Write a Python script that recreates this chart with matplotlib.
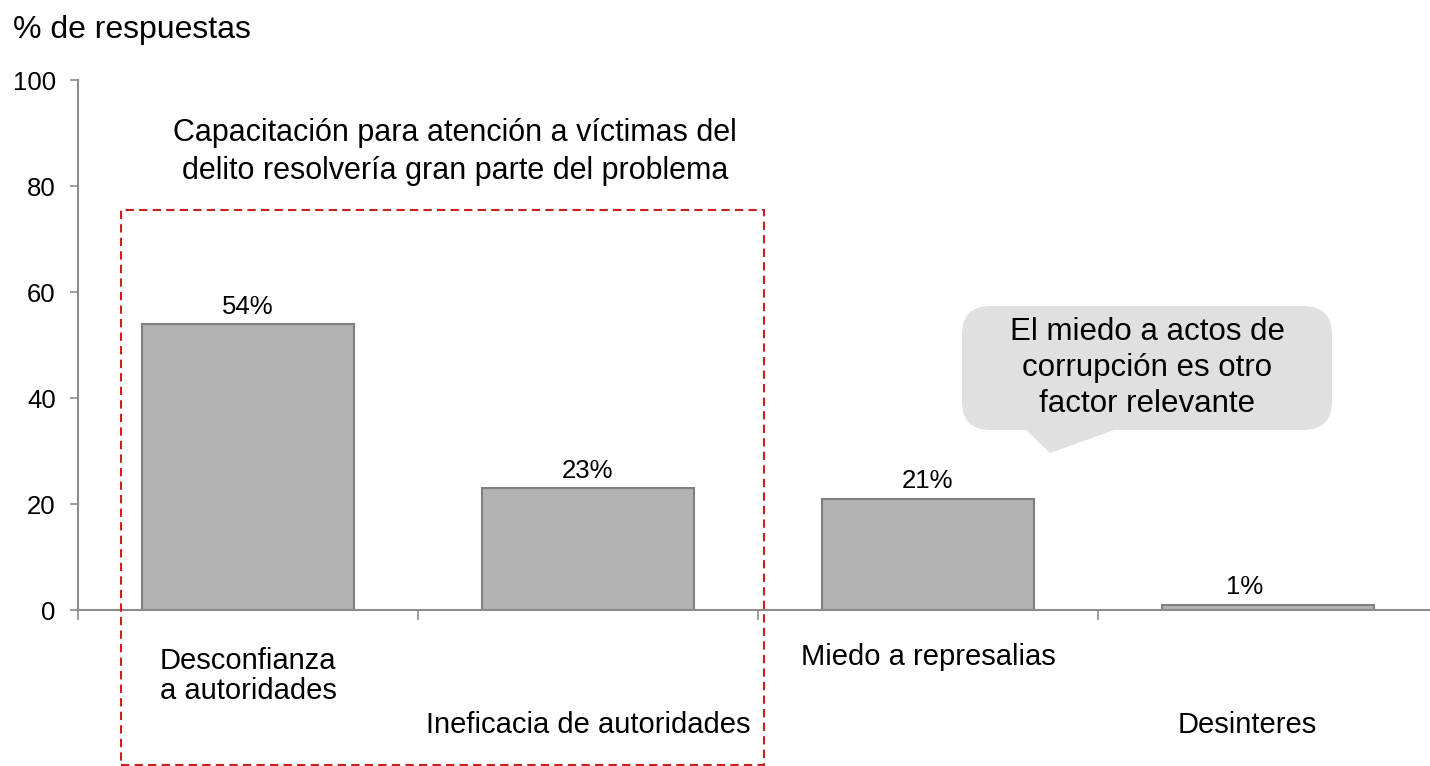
import matplotlib.pyplot as plt
from matplotlib.patches import Rectangle, FancyBboxPatch, Polygon
from matplotlib.transforms import blended_transform_factory

plt.rcParams['font.family'] = ['Liberation Sans', 'DejaVu Sans']

# datos
categorias = ["Desconfianza\na autoridades", "Ineficacia de autoridades",
              "Miedo a represalias", "Desinteres"]
valores = [54, 23, 21, 1]
etiquetas = ["54%", "23%", "21%", "1%"]
ticks_y = [0, 20, 40, 60, 80, 100]

W, H = 1430, 766


def px(x, y):
    # pixel (desde arriba a la izquierda) -> fraccion de figura
    return x / W, 1 - y / H


fig = plt.figure(figsize=(W / 100, H / 100), dpi=100)
ax = fig.add_axes([78 / W, 156 / H, 1360 / W, 530 / H])

x = list(range(len(valores)))
ax.bar(x, valores, width=0.625, color='#b2b2b2', edgecolor='#808080', linewidth=1.5, zorder=2)
ax.set_xlim(-0.5, 3.5)
ax.set_ylim(0, 100)

for s in ['top', 'right']:
    ax.spines[s].set_visible(False)
for s in ['left', 'bottom']:
    ax.spines[s].set_color('#8c8c8c')
    ax.spines[s].set_linewidth(1.5)

ax.set_yticks(ticks_y)
ax.tick_params(axis='y', length=6, width=1.2, color='#8c8c8c', labelsize=18.5, pad=10)
ax.set_xticks([-0.5, 0.5, 1.5, 2.5, 3.5])
ax.set_xticklabels([])
ax.tick_params(axis='x', length=7, width=1.2, color='#8c8c8c')

# etiquetas de valor
offs = [0, 0, 0, -0.07]
for i, v in enumerate(valores):
    ax.text(i + offs[i], v + 1, etiquetas[i], ha='center', va='bottom', fontsize=18.5)

# etiquetas de categoria (escalonadas)
tr = blended_transform_factory(ax.transData, fig.transFigure)
pos_cat = [(-0.26, 676, 'left'), (1.0, 725, 'center'), (2.0, 657, 'center'), (2.94, 725, 'center')]
for (cx, cy, ha), txt in zip(pos_cat, categorias):
    ax.text(cx, 1 - cy / H, txt, transform=tr, ha=ha, va='center', fontsize=21, linespacing=1.05)

# titulo del eje
fig.text(*px(13, 30), "% de respuestas", ha='left', va='center', fontsize=23)

# recuadro punteado rojo
x0, y0 = px(121, 765)
x1, y1 = px(764, 210)
fig.add_artist(Rectangle((x0, y0), x1 - x0, y1 - y0, transform=fig.transFigure,
                         fill=False, edgecolor='#cc1f1f', linewidth=1.5,
                         linestyle=(0, (4, 2.5)), zorder=5))
fig.text(*px(455, 152), "Capacitación para atención a víctimas del\ndelito resolvería gran parte del problema",
         ha='center', va='center', fontsize=22, linespacing=1.35)

# globo de comentario
bx0, by0 = px(962, 430)
bx1, by1 = px(1332, 306)
fig.add_artist(FancyBboxPatch((bx0, by0), bx1 - bx0, by1 - by0, transform=fig.transFigure,
                              boxstyle="round,pad=0,rounding_size=0.02",
                              facecolor='#e0e0e0', edgecolor='none', zorder=3,
                              mutation_aspect=W / H))
fig.add_artist(Polygon([px(1025, 429), px(1117, 429), px(1050, 453)], closed=True,
                       transform=fig.transFigure, facecolor='#e0e0e0', edgecolor='none', zorder=3))
fig.text(*px(1147, 368), "El miedo a actos de\ncorrupción es otro\nfactor relevante",
         ha='center', va='center', fontsize=22.5, linespacing=1.27, zorder=4)

fig.savefig('out.png', dpi=100)
